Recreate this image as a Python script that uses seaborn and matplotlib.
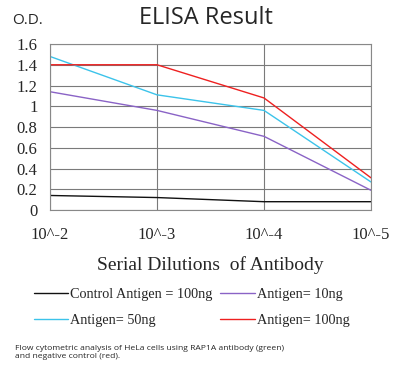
import numpy as np
import pandas as pd
import matplotlib.pyplot as plt
import seaborn as sns
from matplotlib.lines import Line2D

sns.set_style('white')
plt.rcParams['font.family'] = ['Liberation Serif', 'DejaVu Serif']

# data
dilutions = ['10^-2', '10^-3', '10^-4', '10^-5']
control_100 = [0.14, 0.12, 0.08, 0.08]
antigen_10 = [1.14, 0.96, 0.71, 0.19]
antigen_50 = [1.48, 1.11, 0.96, 0.27]
antigen_100 = [1.40, 1.40, 1.08, 0.31]
series_names = ['Control Antigen = 100ng', 'Antigen= 10ng', 'Antigen= 50ng', 'Antigen= 100ng']
colors = ['#111111', '#8a63c6', '#3cc3ea', '#ee2020']

rows = []
for name, vals in zip(series_names, [control_100, antigen_10, antigen_50, antigen_100]):
    for i, v in enumerate(vals):
        rows.append({'series': name, 'pos': i, 'od': v})
df = pd.DataFrame(rows)

fig = plt.figure(figsize=(4.0, 3.73), dpi=100)
ax = fig.add_axes([0.125, 0.437, 0.8025, 0.445])

sns.lineplot(data=df, x='pos', y='od', hue='series', hue_order=series_names,
             palette=colors, linewidth=1.0, legend=False, ax=ax)

ax.set_xlim(0, 3)
ax.set_ylim(0, 1.6)
ax.set_xticks(range(len(dilutions)))
ax.set_xticklabels(dilutions, fontsize=12)
yt = np.arange(0, 1.61, 0.2)
ax.set_yticks(yt)
ax.set_yticklabels([f'{v:g}' for v in yt], fontsize=12)
ax.tick_params(axis='y', length=0, pad=9)
ax.tick_params(axis='x', length=0, pad=12)
ax.grid(True, color='#7a7a7a', linewidth=0.8)
ax.set_axisbelow(True)
for s in ax.spines.values():
    s.set_color('#888888')
    s.set_linewidth(0.8)
ax.set_xlabel('Serial Dilutions  of Antibody', fontsize=14, labelpad=10)
ax.set_ylabel('')

fig.text(0.515, 0.952, 'ELISA Result', ha='center', va='center', fontsize=17,
         family=['Open Sans', 'DejaVu Sans'])
fig.text(0.03, 0.945, 'O.D.', ha='left', va='center', fontsize=11,
         family=['Open Sans', 'DejaVu Sans'])

order = [0, 2, 1, 3]
handles = [Line2D([], [], color=colors[i], linewidth=1.0) for i in order]
labels = [series_names[i] for i in order]
fig.legend(handles, labels, ncol=2, loc='upper left', bbox_to_anchor=(0.07, 0.243),
           frameon=False, fontsize=10.3, handlelength=2.4, handletextpad=0.15,
           columnspacing=0.55, labelspacing=0.9, borderaxespad=0)

fig.text(0.037, 0.055, 'Flow cytometric analysis of HeLa cells using RAP1A antibody (green)\nand negative control (red).',
         ha='left', va='center', fontsize=6.1, linespacing=1.25,
         family=['Open Sans', 'DejaVu Sans'])

fig.savefig('out.png', dpi=100)
